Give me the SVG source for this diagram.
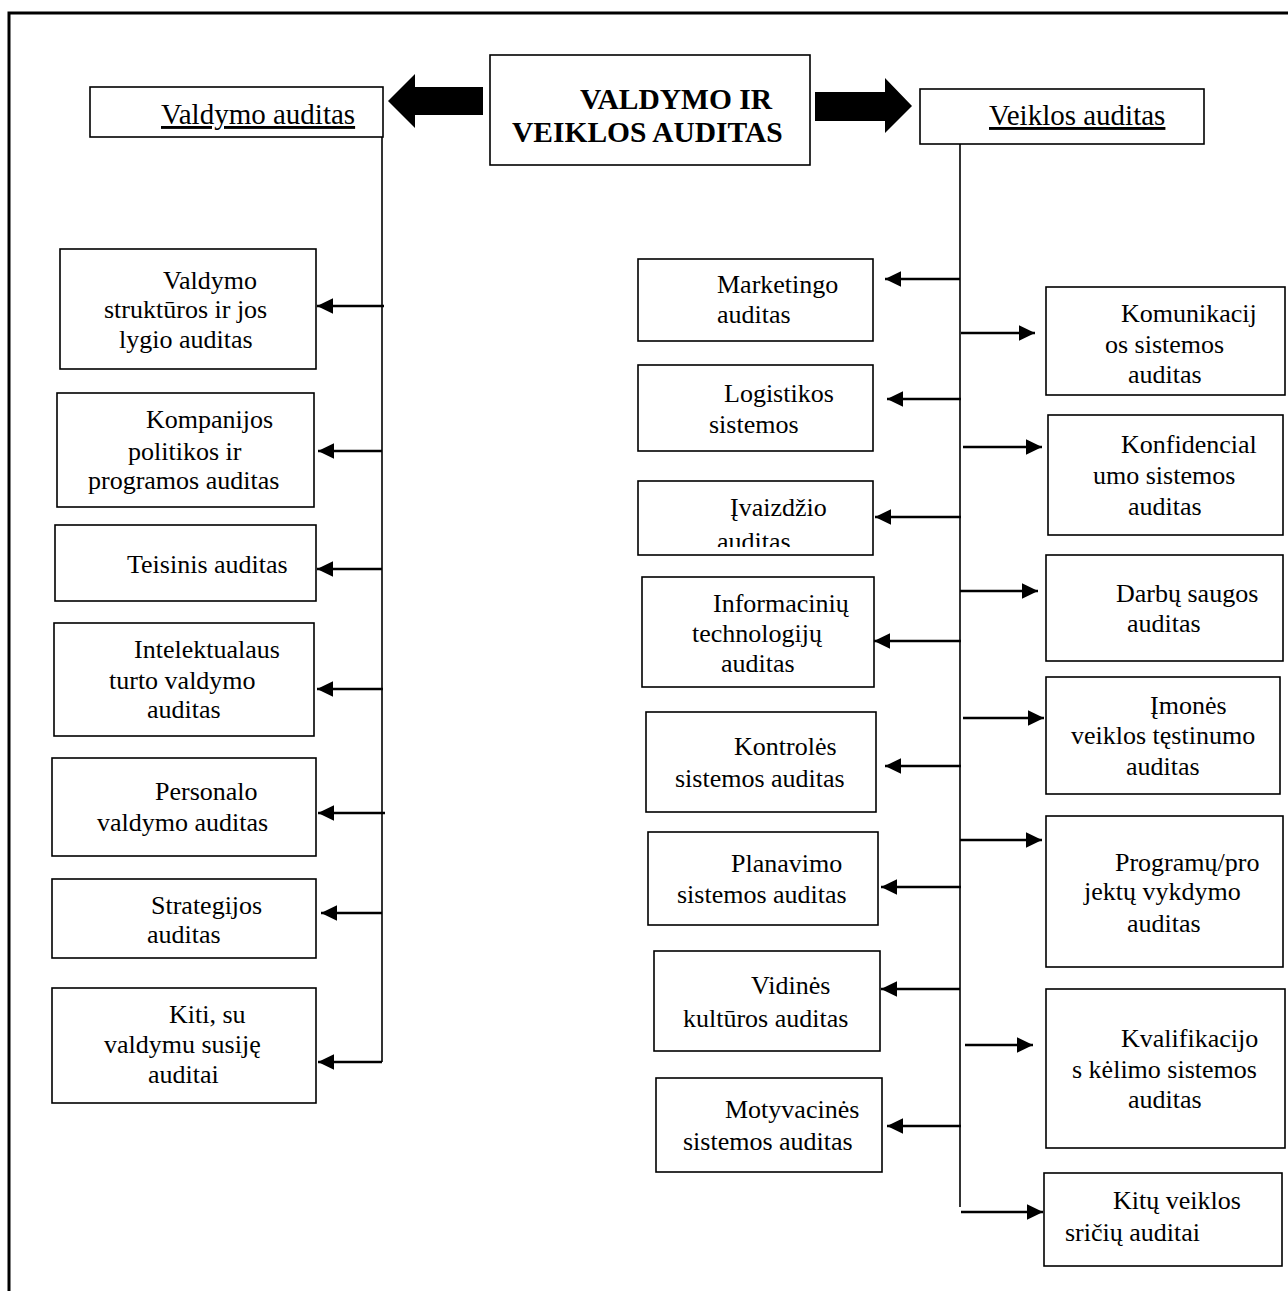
<svg xmlns="http://www.w3.org/2000/svg" width="1288" height="1291" viewBox="0 0 1288 1291">
  <style>
    .box { fill: #fff; stroke: #000; stroke-width: 1.6; }
    .t { font-family: "Liberation Serif", "Times New Roman", serif; font-size: 26px; fill: #000; }
    .h { font-family: "Liberation Serif", "Times New Roman", serif; font-size: 29px; fill: #000; text-decoration: underline; }
    .title { font-family: "Liberation Serif", "Times New Roman", serif; font-size: 29.5px; font-weight: bold; fill: #000; }
    .trunk { stroke: #000; stroke-width: 1.6; fill: none; }
    .br { stroke: #000; stroke-width: 2.6; fill: none; marker-end: url(#head); }
    .big { fill: #000; }
  </style>
  <defs>
    <marker id="head" markerUnits="userSpaceOnUse" markerWidth="17" markerHeight="17" refX="16" refY="8" orient="auto">
      <path d="M0,0.3 L16,8 L0,15.7 z" fill="#000"/>
    </marker>
    <clipPath id="clipIvaizdzio">
      <rect x="638" y="481" width="235" height="66"/>
    </clipPath>
  </defs>

  <!-- page frame -->
  <path d="M9,1291 V13 H1288" fill="none" stroke="#000" stroke-width="3"/>

  <!-- connectors -->
  <g id="connectors">
    <!-- block arrows from the central box -->
    <path class="big" d="M483,87 H415 V74 L388,101 L415,128 V115 H483 z"/>
    <path class="big" d="M815,92 H885 V78 L912,106 L885,133 V121 H815 z"/>

    <!-- left trunk -->
    <line class="trunk" x1="382" y1="137" x2="382" y2="1062"/>
    <line class="br" x1="384" y1="306" x2="317" y2="306"/>
    <line class="br" x1="382" y1="451" x2="318" y2="451"/>
    <line class="br" x1="382" y1="569" x2="317" y2="569"/>
    <line class="br" x1="383" y1="689" x2="317" y2="689"/>
    <line class="br" x1="385" y1="813" x2="318" y2="813"/>
    <line class="br" x1="382" y1="913" x2="321" y2="913"/>
    <line class="br" x1="382" y1="1062" x2="318" y2="1062"/>

    <!-- right trunk -->
    <line class="trunk" x1="960" y1="144" x2="960" y2="1207"/>
    <!-- branches to the left -->
    <line class="br" x1="960" y1="279" x2="885" y2="279"/>
    <line class="br" x1="961" y1="399" x2="887" y2="399"/>
    <line class="br" x1="961" y1="517" x2="875" y2="517"/>
    <line class="br" x1="961" y1="641" x2="874" y2="641"/>
    <line class="br" x1="961" y1="766" x2="885" y2="766"/>
    <line class="br" x1="961" y1="887" x2="881" y2="887"/>
    <line class="br" x1="960" y1="989" x2="881" y2="989"/>
    <line class="br" x1="961" y1="1126" x2="887" y2="1126"/>
    <!-- branches to the right -->
    <line class="br" x1="961" y1="333" x2="1035" y2="333"/>
    <line class="br" x1="963" y1="447" x2="1042" y2="447"/>
    <line class="br" x1="960" y1="591" x2="1038" y2="591"/>
    <line class="br" x1="963" y1="718" x2="1044" y2="718"/>
    <line class="br" x1="960" y1="840" x2="1042" y2="840"/>
    <line class="br" x1="965" y1="1045" x2="1033" y2="1045"/>
    <line class="br" x1="961" y1="1212" x2="1043" y2="1212"/>
  </g>

  <!-- central node -->
  <g id="root">
    <rect class="box" x="490" y="55" width="320" height="110"/>
    <text class="title" x="580" y="109">VALDYMO IR</text>
    <text class="title" x="512" y="142">VEIKLOS AUDITAS</text>
  </g>

  <!-- section headers -->
  <g id="valdymo-auditas">
    <rect class="box" x="90" y="87" width="293" height="50"/>
    <text class="h" x="161" y="124">Valdymo auditas</text>
  </g>
  <g id="veiklos-auditas">
    <rect class="box" x="920" y="89" width="284" height="55"/>
    <text class="h" x="989" y="125">Veiklos auditas</text>
  </g>

  <!-- management audit column -->
  <g id="valdymo-strukturos">
    <rect class="box" x="60" y="249" width="256" height="120"/>
    <text class="t" x="163" y="289">Valdymo</text>
    <text class="t" x="104" y="318">struktūros ir jos</text>
    <text class="t" x="119" y="348">lygio auditas</text>
  </g>
  <g id="kompanijos-politikos">
    <rect class="box" x="57" y="393" width="257" height="114"/>
    <text class="t" x="146" y="428">Kompanijos</text>
    <text class="t" x="128" y="460">politikos ir</text>
    <text class="t" x="88" y="489">programos auditas</text>
  </g>
  <g id="teisinis">
    <rect class="box" x="55" y="525" width="261" height="76"/>
    <text class="t" x="127" y="573">Teisinis auditas</text>
  </g>
  <g id="intelektualaus-turto">
    <rect class="box" x="54" y="623" width="260" height="113"/>
    <text class="t" x="134" y="658">Intelektualaus</text>
    <text class="t" x="109" y="689">turto valdymo</text>
    <text class="t" x="147" y="718">auditas</text>
  </g>
  <g id="personalo">
    <rect class="box" x="52" y="758" width="264" height="98"/>
    <text class="t" x="155" y="800">Personalo</text>
    <text class="t" x="97" y="831">valdymo auditas</text>
  </g>
  <g id="strategijos">
    <rect class="box" x="52" y="879" width="264" height="79"/>
    <text class="t" x="151" y="914">Strategijos</text>
    <text class="t" x="147" y="943">auditas</text>
  </g>
  <g id="kiti-valdymo">
    <rect class="box" x="52" y="988" width="264" height="115"/>
    <text class="t" x="169" y="1023">Kiti, su</text>
    <text class="t" x="104" y="1053">valdymu susiję</text>
    <text class="t" x="148" y="1083">auditai</text>
  </g>

  <!-- operational audit, inner column -->
  <g id="marketingo">
    <rect class="box" x="638" y="259" width="235" height="82"/>
    <text class="t" x="717" y="293">Marketingo</text>
    <text class="t" x="717" y="323">auditas</text>
  </g>
  <g id="logistikos">
    <rect class="box" x="638" y="365" width="235" height="86"/>
    <text class="t" x="724" y="402">Logistikos</text>
    <text class="t" x="709" y="433">sistemos</text>
  </g>
  <g id="ivaizdzio">
    <rect class="box" x="638" y="481" width="235" height="74"/>
    <text class="t" x="730" y="516">Įvaizdžio</text>
    <text class="t" x="717" y="550" clip-path="url(#clipIvaizdzio)">auditas</text>
  </g>
  <g id="informaciniu-technologiju">
    <rect class="box" x="642" y="577" width="232" height="110"/>
    <text class="t" x="713" y="612">Informacinių</text>
    <text class="t" x="692" y="642">technologijų</text>
    <text class="t" x="721" y="672">auditas</text>
  </g>
  <g id="kontroles">
    <rect class="box" x="646" y="712" width="230" height="100"/>
    <text class="t" x="734" y="755">Kontrolės</text>
    <text class="t" x="675" y="787">sistemos auditas</text>
  </g>
  <g id="planavimo">
    <rect class="box" x="648" y="832" width="230" height="93"/>
    <text class="t" x="731" y="872">Planavimo</text>
    <text class="t" x="677" y="903">sistemos auditas</text>
  </g>
  <g id="vidines-kulturos">
    <rect class="box" x="654" y="951" width="226" height="100"/>
    <text class="t" x="751" y="994">Vidinės</text>
    <text class="t" x="683" y="1027">kultūros auditas</text>
  </g>
  <g id="motyvacines">
    <rect class="box" x="656" y="1078" width="226" height="94"/>
    <text class="t" x="725" y="1118">Motyvacinės</text>
    <text class="t" x="683" y="1150">sistemos auditas</text>
  </g>

  <!-- operational audit, outer column -->
  <g id="komunikacijos">
    <rect class="box" x="1046" y="287" width="239" height="108"/>
    <text class="t" x="1121" y="322">Komunikacij</text>
    <text class="t" x="1105" y="353">os sistemos</text>
    <text class="t" x="1128" y="383">auditas</text>
  </g>
  <g id="konfidencialumo">
    <rect class="box" x="1048" y="415" width="235" height="120"/>
    <text class="t" x="1121" y="453">Konfidencial</text>
    <text class="t" x="1093" y="484">umo sistemos</text>
    <text class="t" x="1128" y="515">auditas</text>
  </g>
  <g id="darbu-saugos">
    <rect class="box" x="1046" y="555" width="237" height="106"/>
    <text class="t" x="1116" y="602">Darbų saugos</text>
    <text class="t" x="1127" y="632">auditas</text>
  </g>
  <g id="imones-testinumo">
    <rect class="box" x="1046" y="677" width="234" height="117"/>
    <text class="t" x="1150" y="714">Įmonės</text>
    <text class="t" x="1071" y="744">veiklos tęstinumo</text>
    <text class="t" x="1126" y="775">auditas</text>
  </g>
  <g id="programu-projektu">
    <rect class="box" x="1046" y="816" width="237" height="151"/>
    <text class="t" x="1115" y="871">Programų/pro</text>
    <text class="t" x="1084" y="900">jektų vykdymo</text>
    <text class="t" x="1127" y="932">auditas</text>
  </g>
  <g id="kvalifikacijos">
    <rect class="box" x="1046" y="989" width="239" height="159"/>
    <text class="t" x="1121" y="1047">Kvalifikacijo</text>
    <text class="t" x="1072" y="1078">s kėlimo sistemos</text>
    <text class="t" x="1128" y="1108">auditas</text>
  </g>
  <g id="kitu-veiklos">
    <rect class="box" x="1044" y="1173" width="238" height="93"/>
    <text class="t" x="1113" y="1209">Kitų veiklos</text>
    <text class="t" x="1065" y="1241">sričių auditai</text>
  </g>
</svg>
